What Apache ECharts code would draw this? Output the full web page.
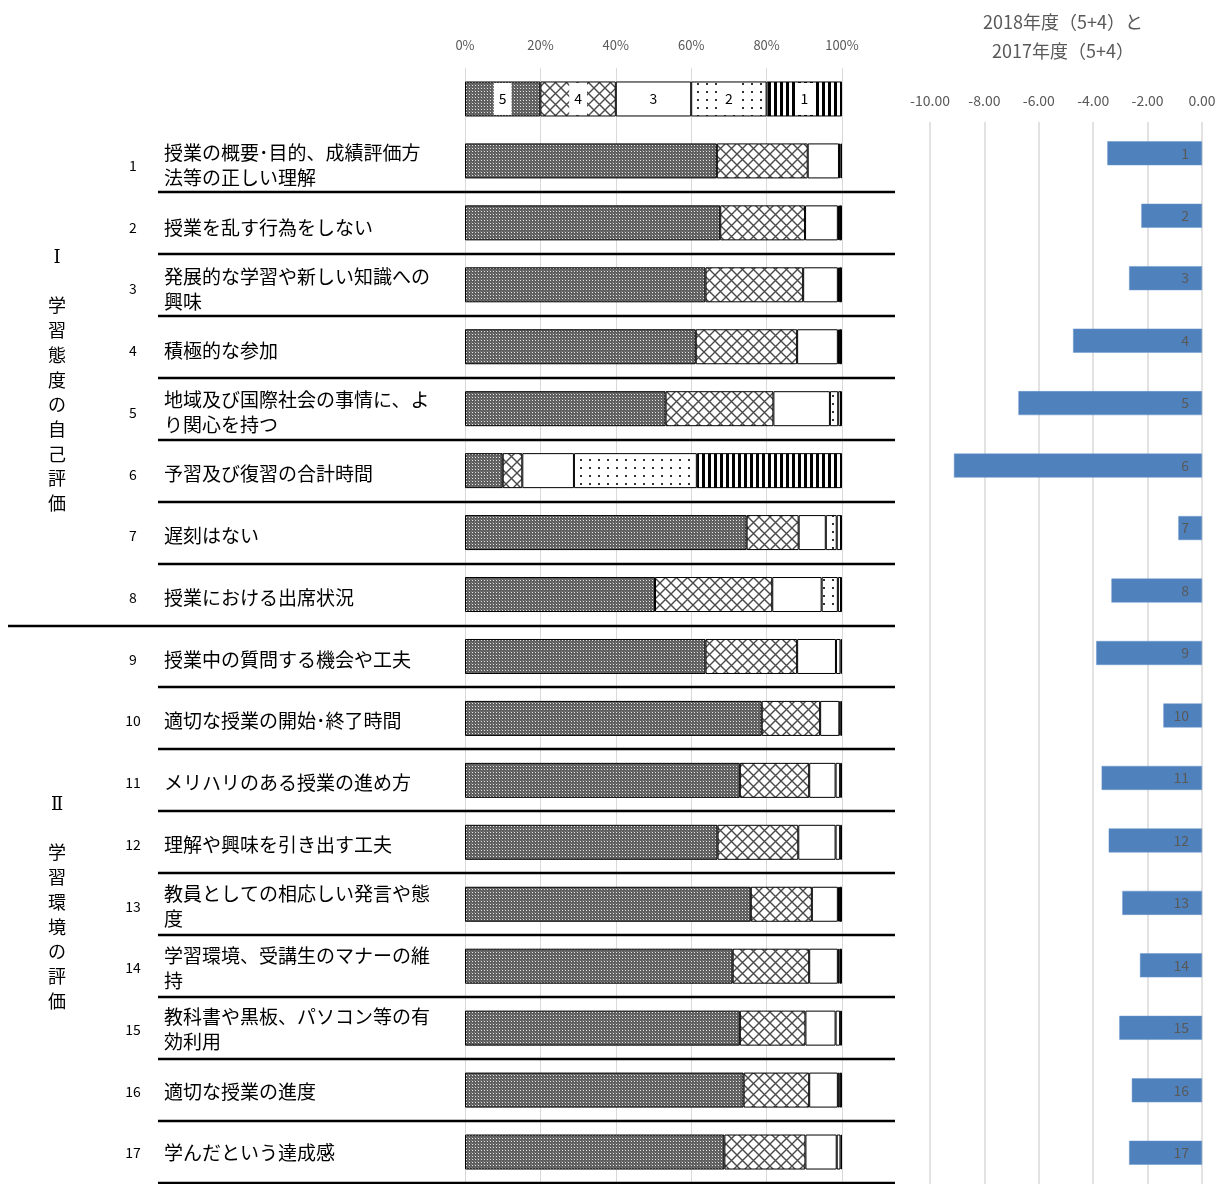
<!DOCTYPE html>
<html><head><meta charset="utf-8">
<script src="https://cdn.jsdelivr.net/npm/echarts@6/dist/echarts.min.js"></script>
<style>html,body{margin:0;padding:0;background:#fff}#c{width:1228px;height:1184px}</style>
</head><body><div id="c"></div>
<script>
// ---- data ----
const questions = [
  '授業の概要･目的、成績評価方\n法等の正しい理解',
  '授業を乱す行為をしない',
  '発展的な学習や新しい知識への\n興味',
  '積極的な参加',
  '地域及び国際社会の事情に、よ\nり関心を持つ',
  '予習及び復習の合計時間',
  '遅刻はない',
  '授業における出席状況',
  '授業中の質問する機会や工夫',
  '適切な授業の開始･終了時間',
  'メリハリのある授業の進め方',
  '理解や興味を引き出す工夫',
  '教員としての相応しい発言や態\n度',
  '学習環境、受講生のマナーの維\n持',
  '教科書や黒板、パソコン等の有\n効利用',
  '適切な授業の進度',
  '学んだという達成感'
];
const rowNumbers = ['1','2','3','4','5','6','7','8','9','10','11','12','13','14','15','16','17'];
const ratingNames = ['5','4','3','2','1'];
const legendShare = [20, 20, 20, 20, 20];
const share5 = [66.8, 67.7, 63.8, 61.2, 53.2, 10.0, 74.7, 50.4, 63.8, 78.7, 72.9, 67.0, 75.8, 71.0, 72.9, 73.9, 68.8];
const share4 = [24.1, 22.5, 25.9, 26.9, 28.6, 5.2, 13.8, 31.1, 24.3, 15.5, 18.4, 21.4, 16.2, 20.3, 17.4, 17.4, 21.5];
const share3 = [8.3, 8.7, 9.2, 10.8, 15.0, 13.7, 7.2, 13.1, 10.3, 5.1, 7.0, 9.9, 6.9, 7.6, 8.0, 7.6, 8.3];
const share2 = [0.4, 0.3, 0.3, 0.3, 2.2, 32.6, 2.9, 4.3, 1.2, 0.3, 1.2, 1.2, 0.3, 0.4, 1.2, 0.5, 1.0];
const share1 = [0.4, 0.8, 0.8, 0.8, 1.0, 38.5, 1.4, 1.1, 0.4, 0.4, 0.5, 0.5, 0.8, 0.7, 0.5, 0.6, 0.4];
const pctTicks = ['0%','20%','40%','60%','80%','100%'];
const diff2018vs2017 = [-3.48, -2.23, -2.68, -4.74, -6.75, -9.12, -0.87, -3.33, -3.89, -1.42, -3.69, -3.43, -2.93, -2.28, -3.04, -2.58, -2.68];
const groupLabels = ['Ⅰ\n\n学\n習\n態\n度\nの\n自\n己\n評\n価', 'Ⅱ\n\n学\n習\n環\n境\nの\n評\n価'];
const rightTitle = '2018年度（5+4）と\n2017年度（5+4）';

// ---- patterns ----
function pat(w, h, draw) {
  const c = document.createElement('canvas'); c.width = w; c.height = h;
  const g = c.getContext('2d'); draw(g, w, h);
  return { image: c, repeat: 'repeat' };
}
const p5 = pat(3, 3, g => { g.fillStyle = '#5f5f5f'; g.fillRect(0,0,3,3); g.fillStyle = '#e6e6e6'; g.fillRect(1,1,1,1); g.fillStyle = '#7c7c7c'; g.fillRect(0,0,1,1); });
const p4 = pat(11, 11, g => { g.fillStyle = '#fff'; g.fillRect(0,0,11,11); g.strokeStyle = '#4a4a4a'; g.lineWidth = 1.4;
  g.beginPath(); g.moveTo(0,0); g.lineTo(11,11); g.moveTo(11,0); g.lineTo(0,11); g.stroke(); });
const p3 = '#ffffff';
const p2 = pat(9, 8, g => { g.fillStyle = '#fff'; g.fillRect(0,0,9,8); g.fillStyle = '#333'; g.fillRect(4,3,2,2); });
const p1 = pat(6, 1, g => { g.fillStyle = '#fff'; g.fillRect(0,0,6,1); g.fillStyle = '#000'; g.fillRect(0,0,3,1); });
const patterns = [p5, p4, p3, p2, p1];
const shares = [share5, share4, share3, share2, share1];

const FONT = '"Noto Sans CJK JP", "Noto Sans", sans-serif';
const chart = echarts.init(document.getElementById('c'), null, { renderer: 'canvas' });

const leftSeries = ratingNames.map((name, k) => ({
  name, type: 'bar', stack: 'dist', xAxisIndex: 0, yAxisIndex: 0, barWidth: 35,
  itemStyle: { color: patterns[k], borderColor: '#000', borderWidth: 1 },
  silent: true,
  data: [{ value: legendShare[k], label: { show: true, position: 'inside', formatter: name,
      backgroundColor: '#fff', padding: [9, 5], color: '#000', fontSize: 14, fontFamily: FONT } }]
        .concat(shares[k])
}));

chart.setOption({
  animation: false,
  title: { text: rightTitle, left: 1058, top: 3, textAlign: 'center',
    textStyle: { fontSize: 18, fontWeight: 'normal', color: '#595959', lineHeight: 29, fontFamily: FONT } },
  grid: [
    { left: 465, top: 68, width: 377, height: 1115 },
    { left: 930, top: 122, width: 272, height: 1070 },
    { left: 465, top: 73, width: 377, height: 1115 }   // label rows sit slightly below bar centres
  ],
  xAxis: [
    { gridIndex: 0, type: 'value', min: 0, max: 100, interval: 20, position: 'top',
      axisLine: { show: false }, axisTick: { show: false },
      axisLabel: { formatter: v => pctTicks[v / 20], color: '#595959', fontSize: 13, margin: 16, fontFamily: FONT },
      splitLine: { lineStyle: { color: '#d9d9d9', width: 1 } } },
    { gridIndex: 1, type: 'value', min: -10, max: 0, interval: 2, position: 'top',
      axisLine: { show: false }, axisTick: { show: false },
      axisLabel: { formatter: v => v.toFixed(2), color: '#595959', fontSize: 14, margin: 14, fontFamily: FONT },
      splitLine: { lineStyle: { color: '#d9d9d9', width: 1.5 } } },
    { gridIndex: 2, type: 'value', show: false, min: 0, max: 100 }
  ],
  yAxis: [
    { gridIndex: 0, type: 'category', inverse: true, data: [''].concat(questions),
      axisLine: { show: false }, axisTick: { show: false }, axisLabel: { show: false } },
    { gridIndex: 1, type: 'category', inverse: true, data: rowNumbers,
      axisLine: { show: false }, axisTick: { show: false }, axisLabel: { show: false } },
    { gridIndex: 2, type: 'category', inverse: true, data: [''].concat(questions),
      axisLine: { show: false }, axisTick: { show: false },
      axisLabel: { interval: 0, align: 'left', margin: 301, color: '#000', fontSize: 19, lineHeight: 25, fontFamily: FONT } },
    { gridIndex: 2, type: 'category', inverse: true, position: 'left', data: [''].concat(rowNumbers),
      axisLine: { show: false }, axisTick: { show: false },
      axisLabel: { interval: 0, align: 'center', margin: 332, color: '#000', fontSize: 14, fontFamily: FONT } }
  ],
  series: leftSeries.concat([{
    name: 'diff', type: 'bar', xAxisIndex: 1, yAxisIndex: 1, barWidth: 24, silent: true,
    itemStyle: { color: '#4f81bd', borderColor: '#6b97cc', borderWidth: 0.5 },
    label: { show: true, position: 'insideRight', formatter: '{b}', color: '#595959', fontSize: 14, distance: 13, fontFamily: FONT },
    data: diff2018vs2017
  }])
});

// separator lines at category boundaries, derived from the axis scale
const yc = i => chart.convertToPixel({ yAxisIndex: 0 }, i);
const band = yc(1) - yc(0);
const graphics = [];
for (let i = 1; i <= questions.length; i++) {
  const y = Math.round(yc(i) + band / 2);
  graphics.push({ type: 'line', silent: true, z: 10,
    shape: { x1: i === 8 ? 8 : 158, y1: y, x2: 895, y2: y },
    style: { stroke: '#000', lineWidth: 2.5 } });
}
[[groupLabels[0], 246], [groupLabels[1], 793]].forEach(([t, top]) => {
  graphics.push({ type: 'text', silent: true, z: 10,
    style: { text: t, x: 57, y: top, textAlign: 'center', textVerticalAlign: 'top',
      fontSize: 18, lineHeight: 24.7, fill: '#000', fontFamily: '"DejaVu Serif", "Noto Sans CJK JP", serif' } });
});
chart.setOption({ graphic: graphics });
</script>
</body></html>
